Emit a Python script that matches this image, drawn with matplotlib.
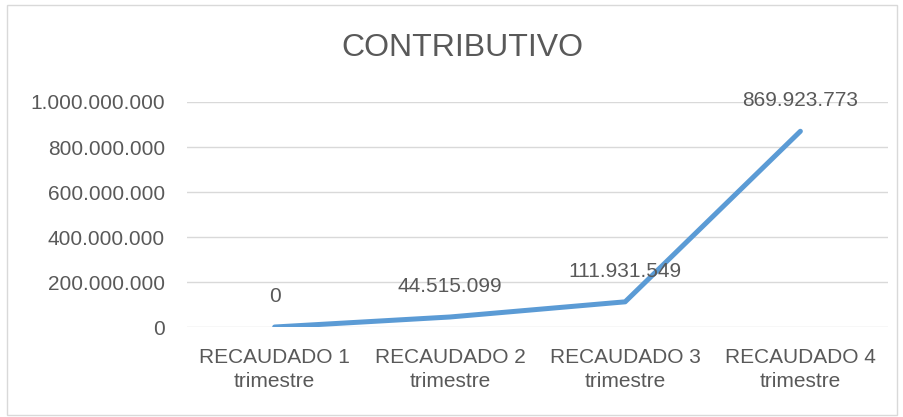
import matplotlib
matplotlib.use('Agg')
import matplotlib.pyplot as plt
from matplotlib.patches import Rectangle
from matplotlib.ticker import FuncFormatter

# data
categories = ['RECAUDADO 1\ntrimestre', 'RECAUDADO 2\ntrimestre',
              'RECAUDADO 3\ntrimestre', 'RECAUDADO 4\ntrimestre']
values = [0, 44515099, 111931549, 869923773]
yticks = [0, 200000000, 400000000, 600000000, 800000000, 1000000000]

plt.rcParams['font.family'] = ['Liberation Sans', 'DejaVu Sans']

txt = '#595959'


def fmt(v):
    return format(int(v), ',').replace(',', '.')


fig = plt.figure(figsize=(9.04, 4.17), dpi=100)
fig.patches.append(Rectangle((0.008, 0.005), 0.984, 0.983, transform=fig.transFigure,
                             fill=False, edgecolor='#d9d9d9', linewidth=1))
ax = fig.add_axes([0.2069, 0.2158, 0.7754, 0.5396])

x = list(range(len(values)))
ax.plot(x, values, color='#5B9BD5', linewidth=3.6, solid_capstyle='round', zorder=3)
for xi, v in zip(x, values):
    ax.annotate(fmt(v), (xi, v), xytext=(0, 22), textcoords='offset points',
                ha='center', va='center', fontsize=15, color=txt)

ax.set_xlim(-0.5, len(values) - 0.5)
ax.set_ylim(0, 1000000000)
ax.set_yticks(yticks)
ax.yaxis.set_major_formatter(FuncFormatter(lambda v, p: fmt(v)))
ax.set_xticks(x)
ax.set_xticklabels(categories)
ax.grid(True, axis='y', color='#d9d9d9', linewidth=1)
ax.set_axisbelow(True)
for s in ax.spines.values():
    s.set_visible(False)
ax.tick_params(length=0, labelsize=15, labelcolor=txt)
ax.tick_params(axis='x', pad=15)
ax.tick_params(axis='y', pad=16)
for lab in ax.get_xticklabels():
    lab.set_linespacing(1.35)

fig.text(0.512, 0.885, 'CONTRIBUTIVO', ha='center', va='center', fontsize=23, color=txt)

fig.savefig('out.png', dpi=100)
